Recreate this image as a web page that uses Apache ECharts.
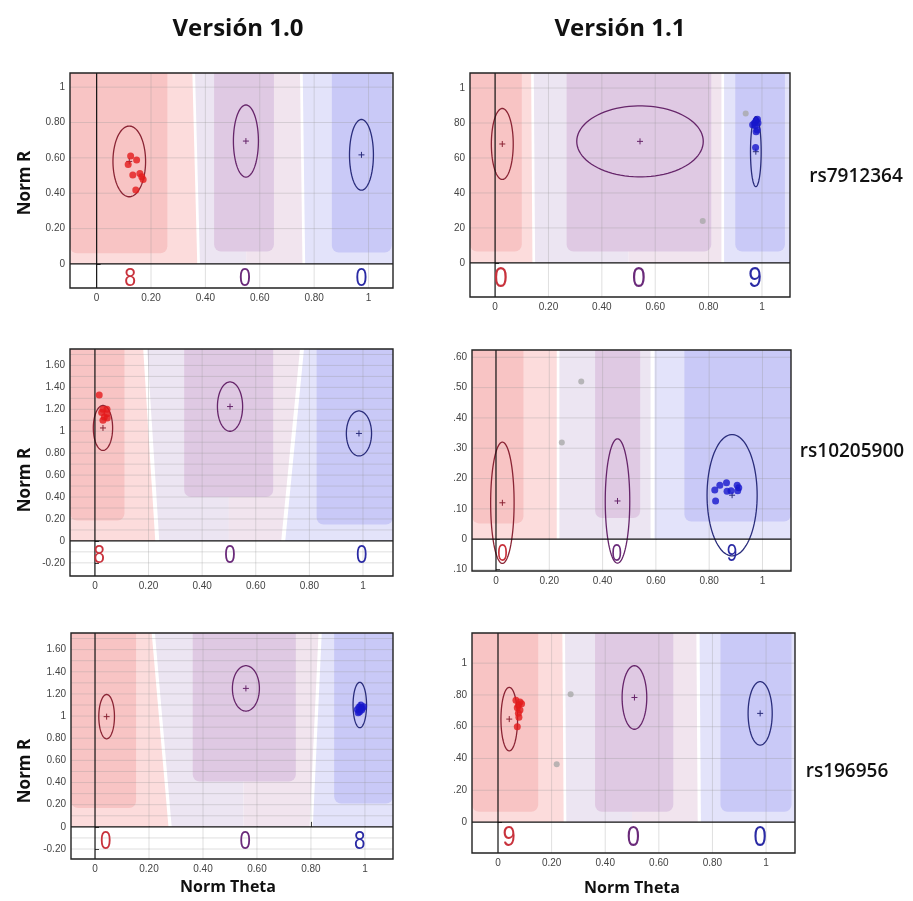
<!DOCTYPE html>
<html><head><meta charset="utf-8">
<script src="https://cdn.jsdelivr.net/npm/echarts@6/dist/echarts.min.js"></script>
<style>html,body{margin:0;padding:0;background:#fff}#c{width:913px;height:901px}</style>
</head><body><div id="c"></div>
<script>
// ---------- text ----------
const versionTitles = ['Versión 1.0', 'Versión 1.1'];
const snpNames = ['rs7912364', 'rs10205900', 'rs196956'];
const xAxisTitle = 'Norm Theta';
const yAxisTitle = 'Norm R';

// ---------- tick values ----------
const xTicks = [0, 0.2, 0.4, 0.6, 0.8, 1];
const yTicksA = [0, 0.2, 0.4, 0.6, 0.8, 1];
const yTicksB = [-0.2, 0, 0.2, 0.4, 0.6, 0.8, 1, 1.2, 1.4, 1.6];
const yTicksC = [-0.1, 0, 0.1, 0.2, 0.3, 0.4, 0.5, 0.6];
const yGridB = [-0.2, -0.1, 0.1, 0.2, 0.3, 0.4, 0.5, 0.6, 0.7, 0.8, 0.9, 1, 1.1, 1.2, 1.3, 1.4, 1.5, 1.6, 1.7];

// ---------- axis ranges per panel (TL, TR, ML, MR, BL, BR) ----------
const xMin = [-0.098, -0.094, -0.093, -0.09, -0.089, -0.097];
const xMax = [1.09, 1.105, 1.112, 1.107, 1.104, 1.108];
const yMin = [-0.136, -0.195, -0.32, -0.105, -0.29, -0.195];
const yMax = [1.08, 1.086, 1.75, 0.624, 1.75, 1.19];

// ---------- cluster regions: light [x0Top, x1Top, x0Bottom, x1Bottom, type] ----------
const light1 = [[-0.098, 0.352, -0.098, 0.37, 0], [0.362, 0.55, 0.38, 0.55, 1], [0.55, 0.748, 0.55, 0.757, 6], [0.758, 1.09, 0.767, 1.09, 2]];
const light2 = [[-0.094, 0.135, -0.094, 0.14, 0], [0.145, 0.5, 0.15, 0.5, 1], [0.5, 0.848, 0.5, 0.848, 6], [0.858, 1.105, 0.858, 1.105, 2]];
const light3 = [[-0.093, 0.18, -0.093, 0.225, 0], [0.195, 0.5, 0.24, 0.5, 1], [0.5, 0.765, 0.5, 0.695, 6], [0.78, 1.112, 0.71, 1.112, 2]];
const light4 = [[-0.09, 0.228, -0.09, 0.228, 0], [0.238, 0.58, 0.238, 0.58, 1], [0.595, 1.107, 0.595, 1.107, 2]];
const light5 = [[-0.089, 0.21, -0.089, 0.272, 0], [0.222, 0.55, 0.284, 0.55, 1], [0.55, 0.828, 0.55, 0.795, 6], [0.84, 1.104, 0.807, 1.104, 2]];
const light6 = [[-0.097, 0.24, -0.097, 0.245, 0], [0.25, 0.5, 0.255, 0.5, 1], [0.5, 0.74, 0.5, 0.745, 6], [0.752, 1.108, 0.757, 1.108, 2]];
// dark core regions [x0, x1, yBottom, type]
const dark1 = [[-0.098, 0.26, 0.06, 3], [0.432, 0.652, 0.07, 4], [0.865, 1.085, 0.065, 5]];
const dark2 = [[-0.094, 0.10, 0.065, 3], [0.268, 0.81, 0.065, 4], [0.90, 1.086, 0.065, 5]];
const dark3 = [[-0.093, 0.11, 0.185, 3], [0.333, 0.665, 0.40, 4], [0.827, 1.112, 0.15, 5]];
const dark4 = [[-0.09, 0.103, 0.052, 3], [0.372, 0.541, 0.07, 4], [0.707, 1.107, 0.058, 5]];
const dark5 = [[-0.089, 0.152, 0.17, 3], [0.362, 0.744, 0.41, 4], [0.886, 1.104, 0.21, 5]];
const dark6 = [[-0.097, 0.15, 0.065, 3], [0.362, 0.654, 0.065, 4], [0.83, 1.095, 0.065, 5]];

// ---------- cluster ellipses [cx, cy, rx, ry, genotype] ----------
const ell1 = [[0.12, 0.58, 0.06, 0.2, 0], [0.549, 0.695, 0.046, 0.204, 1], [0.974, 0.617, 0.044, 0.2, 2]];
const ell2 = [[0.027, 0.68, 0.041, 0.203, 0], [0.543, 0.695, 0.237, 0.203, 1], [0.977, 0.636, 0.02, 0.2, 2]];
const ell3 = [[0.03, 1.03, 0.036, 0.205, 0], [0.504, 1.225, 0.047, 0.225, 1], [0.985, 0.98, 0.047, 0.205, 2]];
const ell4 = [[0.024, 0.12, 0.044, 0.2, 0], [0.456, 0.126, 0.046, 0.205, 1], [0.886, 0.145, 0.094, 0.2, 2]];
const ell5 = [[0.043, 0.995, 0.029, 0.2, 0], [0.559, 1.25, 0.05, 0.205, 1], [0.981, 1.10, 0.025, 0.205, 2]];
const ell6 = [[0.042, 0.648, 0.031, 0.2, 0], [0.509, 0.784, 0.046, 0.2, 1], [0.978, 0.684, 0.045, 0.2, 2]];

// ---------- samples [theta, R] ----------
const red1 = [[0.125, 0.61], [0.147, 0.588], [0.116, 0.563], [0.159, 0.512], [0.133, 0.503], [0.166, 0.493], [0.171, 0.478], [0.144, 0.418]];
const blue2 = [[0.965, 0.79], [0.972, 0.80], [0.978, 0.815], [0.983, 0.822], [0.985, 0.80], [0.975, 0.785], [0.982, 0.76], [0.978, 0.75], [0.976, 0.66]];
const gray2 = [[0.939, 0.855], [0.778, 0.24]];
const red3 = [[0.016, 1.33], [0.03, 1.2], [0.045, 1.2], [0.025, 1.17], [0.045, 1.16], [0.035, 1.13], [0.046, 1.12], [0.03, 1.1]];
const blue4 = [[0.821, 0.162], [0.824, 0.126], [0.84, 0.178], [0.865, 0.186], [0.867, 0.158], [0.882, 0.16], [0.905, 0.178], [0.911, 0.17], [0.907, 0.16]];
const gray4 = [[0.32, 0.52], [0.247, 0.319]];
const blue5 = [[0.972, 1.06], [0.978, 1.08], [0.985, 1.10], [0.99, 1.07], [0.995, 1.085], [0.98, 1.04], [0.975, 1.03], [0.988, 1.055]];
const red6 = [[0.067, 0.767], [0.082, 0.755], [0.088, 0.745], [0.076, 0.735], [0.072, 0.72], [0.082, 0.705], [0.076, 0.685], [0.078, 0.66], [0.072, 0.60]];
const gray6 = [[0.271, 0.805], [0.219, 0.363]];

// ---------- genotype counts [theta position, count, genotype] ----------
const counts1 = [[0.123, 8, 0], [0.545, 0, 1], [0.974, 0, 2]];
const counts2 = [[0.022, 0, 0], [0.539, 0, 1], [0.974, 9, 2]];
const counts3 = [[0.016, 8, 0], [0.504, 0, 1], [0.995, 0, 2]];
const counts4 = [[0.024, 0, 0], [0.453, 0, 1], [0.886, 9, 2]];
const counts5 = [[0.04, 0, 0], [0.556, 0, 1], [0.981, 8, 2]];
const counts6 = [[0.041, 9, 0], [0.505, 0, 1], [0.978, 0, 2]];
const countY = [-0.085, -0.09, -0.143, -0.05, -0.141, -0.103];

// ---------- assembly ----------
const lightZones = [light1, light2, light3, light4, light5, light6];
const darkZones = [dark1, dark2, dark3, dark4, dark5, dark6];
const ellipses = [ell1, ell2, ell3, ell4, ell5, ell6];
const redDots = [red1, [], red3, [], [], red6];
const blueDots = [[], blue2, [], blue4, blue5, []];
const grayDots = [[], gray2, [], gray4, [], gray6];
const counts = [counts1, counts2, counts3, counts4, counts5, counts6];
const yTickSets = [yTicksA, yTicksA, yTicksB, yTicksC, yTicksB, yTicksA];
const yGridSets = [yTicksA, yTicksA, yGridB, yTicksC, yGridB, yTicksA];

const gridBox = [[70, 73, 323, 215], [470, 73, 320, 224], [70, 349, 323, 227], [472, 350, 319, 221], [71, 633, 322, 226], [472, 633, 323, 220]];
const countFont = [26, 30, 25, 23, 25, 29];
const zoneColors = ['#fcdcdc', '#ece5f2', '#e3e3fa', '#f8c4c4', '#dfc9e3', '#c9c9f7', '#f1e4ee'];
const genoLine = ['#8a2434', '#66256a', '#2a2d7c'];
const genoText = ['#c8323c', '#6a2a7a', '#2a2aa4'];
const gridLineColor = 'rgba(150,150,150,0.3)';

function fmt(v) {
  if (Math.abs(v) < 1e-9) return '0';
  if (Math.abs(v - 1) < 1e-9) return '1';
  return v.toFixed(2);
}

const grids = [], xAxes = [], yAxes = [], series = [];
for (let i = 0; i < 6; i++) {
  const g = gridBox[i];
  grids.push({left: g[0], top: g[1], width: g[2], height: g[3], show: false, containLabel: false});
  xAxes.push({
    type: 'value', gridIndex: i, min: xMin[i], max: xMax[i],
    axisLine: {show: false}, splitLine: {show: false},
    axisTick: {show: true, inside: true, length: 5, customValues: xTicks, lineStyle: {color: '#333'}},
    axisLabel: {customValues: xTicks, formatter: fmt, fontSize: 10, color: '#444', margin: 5, fontFamily: 'Liberation Sans'}
  });
  yAxes.push({
    type: 'value', gridIndex: i, min: yMin[i], max: yMax[i],
    axisLine: {show: false}, splitLine: {show: false},
    axisTick: {show: true, inside: true, length: 4, customValues: yTickSets[i], lineStyle: {color: '#333'}},
    axisLabel: {customValues: yTickSets[i], formatter: fmt, fontSize: 10, color: '#444', margin: 5, fontFamily: 'Liberation Sans'}
  });
  const ax = {xAxisIndex: i, yAxisIndex: i};

  series.push(Object.assign({
    type: 'custom', z: 1, silent: true, data: lightZones[i],
    renderItem: (p, api) => {
      const a = api.coord([api.value(0), yMax[i]]), b = api.coord([api.value(1), yMax[i]]);
      const c = api.coord([api.value(3), 0]), d = api.coord([api.value(2), 0]);
      return {type: 'polygon', shape: {points: [a, b, c, d]}, style: {fill: zoneColors[api.value(4)]}};
    }
  }, ax));
  series.push(Object.assign({
    type: 'custom', z: 2, silent: true, data: darkZones[i],
    renderItem: (p, api) => {
      const a = api.coord([api.value(0), yMax[i]]), b = api.coord([api.value(1), api.value(2)]);
      return {type: 'rect', shape: {x: a[0], y: a[1], width: b[0] - a[0], height: b[1] - a[1], r: [0, 0, 7, 7]},
        style: {fill: zoneColors[api.value(3)]}};
    }
  }, ax));
  series.push(Object.assign({
    type: 'custom', z: 3, silent: true, data: xTicks.filter(v => v !== 0).map(v => [v]),
    renderItem: (p, api) => {
      const a = api.coord([api.value(0), yMin[i]]), b = api.coord([api.value(0), yMax[i]]);
      return {type: 'line', shape: {x1: a[0], y1: a[1], x2: b[0], y2: b[1]}, style: {stroke: gridLineColor, lineWidth: 1}};
    }
  }, ax));
  series.push(Object.assign({
    type: 'custom', z: 3, silent: true, data: yGridSets[i].filter(v => v !== 0).map(v => [0, v]),
    renderItem: (p, api) => {
      const a = api.coord([xMin[i], api.value(1)]), b = api.coord([xMax[i], api.value(1)]);
      return {type: 'line', shape: {x1: a[0], y1: a[1], x2: b[0], y2: b[1]}, style: {stroke: gridLineColor, lineWidth: 1}};
    }
  }, ax));
  series.push(Object.assign({
    type: 'custom', z: 5, silent: true, data: ellipses[i],
    renderItem: (p, api) => {
      const cx = api.value(0), cy = api.value(1), rx = api.value(2), ry = api.value(3), col = genoLine[api.value(4)];
      const pts = [];
      for (let k = 0; k < 90; k++) {
        const t = k / 90 * Math.PI * 2;
        pts.push(api.coord([cx + rx * Math.cos(t), cy + ry * Math.sin(t)]));
      }
      const c = api.coord([cx, cy]);
      return {type: 'group', children: [
        {type: 'polygon', shape: {points: pts}, style: {fill: 'none', stroke: col, lineWidth: 1.3}},
        {type: 'line', shape: {x1: c[0] - 3, y1: c[1], x2: c[0] + 3, y2: c[1]}, style: {stroke: col, lineWidth: 1}},
        {type: 'line', shape: {x1: c[0], y1: c[1] - 3, x2: c[0], y2: c[1] + 3}, style: {stroke: col, lineWidth: 1}}
      ]};
    }
  }, ax));
  series.push(Object.assign({
    type: 'custom', z: 6, silent: true, data: [[0, 0]],
    renderItem: (p, api) => {
      const tl = api.coord([xMin[i], yMax[i]]), br = api.coord([xMax[i], yMin[i]]);
      const o = api.coord([0, 0]);
      return {type: 'group', children: [
        {type: 'line', shape: {x1: o[0], y1: tl[1], x2: o[0], y2: br[1]}, style: {stroke: '#111', lineWidth: 1.2}},
        {type: 'line', shape: {x1: tl[0], y1: o[1], x2: br[0], y2: o[1]}, style: {stroke: '#111', lineWidth: 1.2}},
        {type: 'rect', shape: {x: tl[0], y: tl[1], width: br[0] - tl[0], height: br[1] - tl[1]}, style: {fill: 'none', stroke: '#222', lineWidth: 1.4}}
      ]};
    }
  }, ax));
  series.push(Object.assign({type: 'scatter', z: 7, silent: true, symbolSize: 6, data: grayDots[i], itemStyle: {color: '#a9a9a9'}}, ax));
  series.push(Object.assign({type: 'scatter', z: 8, silent: true, symbolSize: 7, data: redDots[i], itemStyle: {color: '#e31a1c'}}, ax));
  series.push(Object.assign({type: 'scatter', z: 8, silent: true, symbolSize: 7, data: blueDots[i], itemStyle: {color: '#1616cc'}}, ax));
  series.push(Object.assign({
    type: 'custom', z: 9, silent: true, data: counts[i],
    renderItem: (p, api) => {
      const c = api.coord([api.value(0), countY[i]]);
      return {type: 'text', x: c[0], y: c[1], scaleX: 0.82,
        style: {text: String(api.value(1)), fontSize: countFont[i], fontFamily: 'Liberation Sans',
          fill: genoText[api.value(2)], align: 'center', verticalAlign: 'middle'}};
    }
  }, ax));
}

const titleFont = '"Open Sans", "Lato", sans-serif';
const graphic = [
  {type: 'rect', z: 100, shape: {x: 396, y: 60, width: 58, height: 840}, style: {fill: '#fff'}},
  {type: 'text', z: 101, x: 238, y: 29, style: {text: versionTitles[0], font: 'bold 24px ' + titleFont, fill: '#111', align: 'center', verticalAlign: 'middle'}},
  {type: 'text', z: 101, x: 620, y: 29, style: {text: versionTitles[1], font: 'bold 24px ' + titleFont, fill: '#111', align: 'center', verticalAlign: 'middle'}},
  {type: 'text', z: 101, x: 856, y: 177, style: {text: snpNames[0], font: '600 19px ' + titleFont, fill: '#111', align: 'center', verticalAlign: 'middle'}},
  {type: 'text', z: 101, x: 852, y: 452, style: {text: snpNames[1], font: '600 19px ' + titleFont, fill: '#111', align: 'center', verticalAlign: 'middle'}},
  {type: 'text', z: 101, x: 847, y: 772, style: {text: snpNames[2], font: '600 19px ' + titleFont, fill: '#111', align: 'center', verticalAlign: 'middle'}},
  {type: 'text', z: 101, x: 25, y: 183, rotation: Math.PI / 2, style: {text: yAxisTitle, font: 'bold 17px ' + titleFont, fill: '#111', align: 'center', verticalAlign: 'middle'}},
  {type: 'text', z: 101, x: 25, y: 480, rotation: Math.PI / 2, style: {text: yAxisTitle, font: 'bold 17px ' + titleFont, fill: '#111', align: 'center', verticalAlign: 'middle'}},
  {type: 'text', z: 101, x: 25, y: 771, rotation: Math.PI / 2, style: {text: yAxisTitle, font: 'bold 17px ' + titleFont, fill: '#111', align: 'center', verticalAlign: 'middle'}},
  {type: 'text', z: 101, x: 228, y: 887, style: {text: xAxisTitle, font: 'bold 16px ' + titleFont, fill: '#111', align: 'center', verticalAlign: 'middle'}},
  {type: 'text', z: 101, x: 632, y: 888, style: {text: xAxisTitle, font: 'bold 16px ' + titleFont, fill: '#111', align: 'center', verticalAlign: 'middle'}}
];

const chart = echarts.init(document.getElementById('c'), null, {renderer: 'canvas'});
chart.setOption({
  backgroundColor: '#fff',
  animation: false,
  grid: grids, xAxis: xAxes, yAxis: yAxes, series: series, graphic: graphic
});
</script></body></html>
